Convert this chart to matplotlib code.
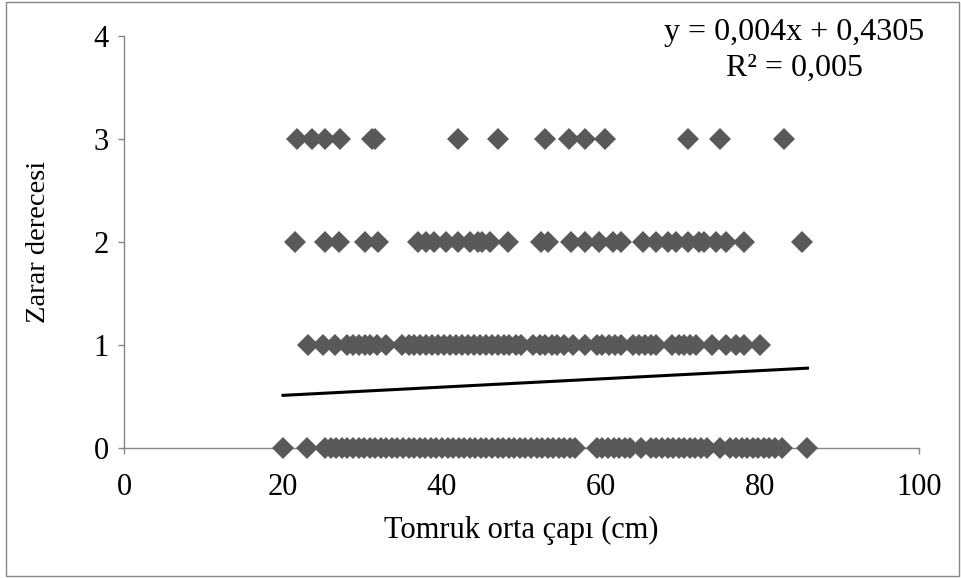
import numpy as np
import matplotlib
matplotlib.use('Agg')
import matplotlib.pyplot as plt
from matplotlib.patches import Rectangle

# log mid diameter (cm) for each damage degree
diam_deg3 = [21.8, 23.6, 25.3, 27.2, 31.2, 31.6, 42, 47, 53, 56, 58, 60.5, 71, 75, 83]
diam_deg2 = [21.5, 25.3, 27, 30.3, 32, 37, 38, 39, 40.5, 42, 43.5, 44.5, 45, 46,
             48.3, 52.5, 53.3, 56.3, 58, 59.8, 61.5, 62.5, 65.3, 67, 68.4, 69.5,
             71, 72.3, 73, 74.5, 75.8, 78, 85.3]
diam_deg1 = [23.2, 25, 26.5, 28, 28.8, 29.5, 30.3, 31, 31.8, 33, 35, 35.8, 36.5,
             37.3, 38, 38.8, 39.5, 40.3, 41, 41.8, 42.5, 43.3, 44, 44.8, 45.5,
             46.3, 47, 47.8, 48.5, 49.3, 50, 51.5, 52.3, 53, 53.8, 54.5, 55.3,
             56.5, 58, 59.5, 60.2, 61, 61.8, 62.5, 64, 64.8, 65.5, 66.3, 67,
             69, 69.8, 70.5, 71.2, 72, 74, 75.8, 77, 78, 80]
diam_deg0 = [20, 23, 25.3, 26, 26.7, 27.4, 28.1, 28.8, 29.5, 30.2, 30.9, 31.6,
             32.3, 33, 33.7, 34.4, 35.1, 35.8, 36.5, 37.2, 37.9, 38.6, 39.3,
             40, 40.7, 41.4, 42.1, 42.8, 43.5, 44.2, 44.9, 45.6, 46.3, 47,
             47.7, 48.4, 49.1, 49.8, 50.5, 51.2, 51.9, 52.6, 53.3, 54, 54.7,
             55.4, 56.1, 56.8, 59.5, 60.2, 60.9, 61.6, 62.3, 63, 63.7, 65,
             66.3, 67, 67.7, 68.4, 69.1, 69.8, 70.5, 71.2, 71.9, 72.6, 73.3,
             75, 76.3, 77, 77.7, 78.4, 79.1, 79.8, 80.5, 81.2, 81.9, 82.8, 86]
degrees = [0, 1, 2, 3]

# linear trendline as reported
slope = 0.004
intercept = 0.4305
r2_text = '0,005'

plt.rcParams['font.family'] = ['Liberation Serif', 'DejaVu Serif']

fig = plt.figure(figsize=(9.62, 5.78), dpi=100)
ax = fig.add_axes([0.129, 0.225, 0.826, 0.713])

gray = '#595959'
for deg, xs in zip(degrees, [diam_deg0, diam_deg1, diam_deg2, diam_deg3]):
    ax.plot(xs, [deg] * len(xs), linestyle='none', marker='D', markersize=11,
            color=gray, markeredgewidth=0, clip_on=False, zorder=3)

all_x = np.array(diam_deg0 + diam_deg1 + diam_deg2 + diam_deg3)
xfit = np.array([all_x.min(), all_x.max()])
ax.plot(xfit, slope * xfit + intercept, color='black', linewidth=2.2, zorder=4)

ax.set_xlim(0, 100)
ax.set_ylim(0, 4)
ax.set_xticks([0, 20, 40, 60, 80, 100])
ax.set_yticks([0, 1, 2, 3, 4])
for side in ['top', 'right']:
    ax.spines[side].set_visible(False)
for side in ['left', 'bottom']:
    ax.spines[side].set_color('#868686')
    ax.spines[side].set_linewidth(1.0)
ax.tick_params(direction='out', length=4, width=1.0, color='#868686', labelsize=22)
ax.tick_params(axis='x', pad=14)
ax.tick_params(axis='y', pad=7)

ax.set_xlabel('Tomruk orta çapı (cm)', fontsize=22, va='center')
ax.xaxis.set_label_coords(0.5, -0.2)
ax.set_ylabel('Zarar derecesi', fontsize=20.5, va='center')
ax.yaxis.set_label_coords(-0.108, 0.5)

fig.text(0.826, 0.943, 'y = 0,004x + 0,4305', fontsize=23, ha='center', va='center')
fig.text(0.826, 0.882, 'R² = ' + r2_text, fontsize=23, ha='center', va='center')

fig.patches.append(Rectangle((0.006, 0.004), 0.991, 0.992, transform=fig.transFigure,
                             fill=False, edgecolor='#868686', linewidth=1.0))

fig.savefig('out.png', dpi=100)
